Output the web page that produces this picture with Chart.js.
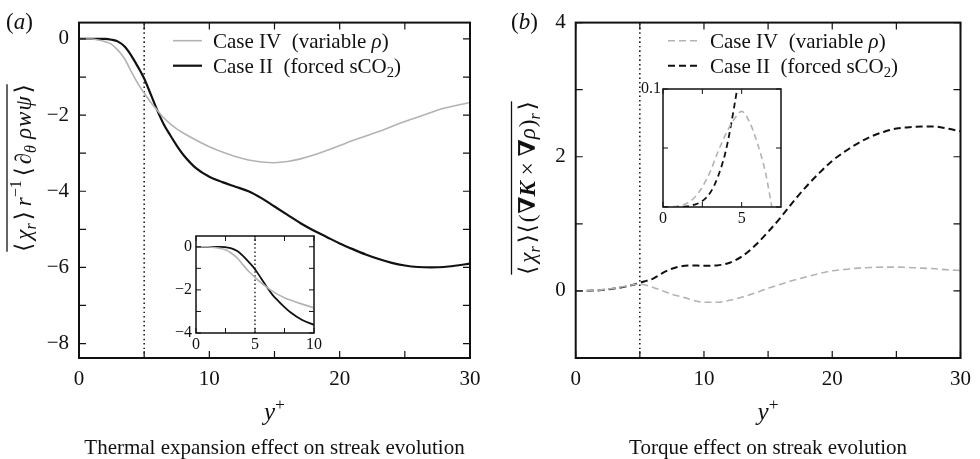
<!DOCTYPE html>
<html><head><meta charset="utf-8">
<script src="https://cdn.jsdelivr.net/npm/chart.js@4.4.0/dist/chart.umd.min.js"></script>
<style>
html,body{margin:0;padding:0;background:#fff;}
#wrap{position:relative;width:980px;height:459px;overflow:hidden;background:#fff;}
canvas{position:absolute;}
</style></head><body>
<div id="wrap">
<canvas id="cA" width="490" height="459" style="left:0;top:0;width:490px;height:459px"></canvas>
<canvas id="cB" width="490" height="459" style="left:490px;top:0;width:490px;height:459px"></canvas>
<canvas id="cAi" width="180" height="140" style="left:150px;top:220px;width:180px;height:140px"></canvas>
<canvas id="cBi" width="190" height="160" style="left:610px;top:75px;width:190px;height:160px"></canvas>
</div>
<script>
// ---------------- DATA ----------------
// Panel (a): thermal expansion effect
const yPlusA = [0,1,1.5,2,2.5,3,3.5,4,4.5,5,5.5,6,6.5,7,7.5,8,9,10,11,12,13,14,15,16,17,18,19,20,21,22,23,24,25,26,27,28,29,30];
const caseIV_A = [0,0,-0.03,-0.07,-0.14,-0.3,-0.52,-0.85,-1.16,-1.42,-1.66,-1.87,-2.07,-2.23,-2.36,-2.47,-2.66,-2.83,-2.97,-3.09,-3.18,-3.23,-3.25,-3.22,-3.15,-3.05,-2.93,-2.8,-2.67,-2.55,-2.43,-2.3,-2.17,-2.05,-1.93,-1.82,-1.74,-1.67];
const caseII_A = [0,0,0,0,-0.02,-0.07,-0.2,-0.43,-0.72,-1.04,-1.45,-1.87,-2.24,-2.53,-2.8,-3.04,-3.4,-3.62,-3.76,-3.88,-4.0,-4.18,-4.4,-4.62,-4.84,-5.03,-5.2,-5.37,-5.52,-5.66,-5.78,-5.88,-5.95,-5.99,-6.0,-5.99,-5.95,-5.9];
// Panel (b): torque effect
const yPlusB = [0,1,2,3,4,5,5.5,6,6.5,7,7.5,8,8.5,9,10,11,12,13,14,15,16,17,18,19,20,21,22,23,24,25,26,27,28,29,30];
const caseIV_B = [0,0.002,0.015,0.04,0.075,0.1,0.085,0.055,0.02,-0.015,-0.05,-0.075,-0.1,-0.13,-0.17,-0.17,-0.14,-0.09,-0.03,0.04,0.1,0.16,0.21,0.26,0.3,0.32,0.34,0.35,0.355,0.355,0.35,0.34,0.33,0.315,0.305];
const caseII_B = [0,0.002,0.012,0.035,0.07,0.12,0.15,0.18,0.235,0.29,0.33,0.36,0.375,0.38,0.375,0.38,0.42,0.52,0.68,0.88,1.1,1.34,1.56,1.76,1.94,2.08,2.2,2.3,2.37,2.42,2.44,2.45,2.45,2.42,2.38];
// Inset of (b): near-wall detail
const yPlusBi = [0,0.5,1,1.5,2,2.5,3,3.5,4,4.5,5,5.5,6,6.5,7,7.5];
const caseIV_Bi = [0,0,0.001,0.003,0.008,0.017,0.03,0.047,0.062,0.074,0.081,0.072,0.054,0.03,-0.006,-0.04];
const caseII_Bi = [0,0,0,0.0005,0.002,0.005,0.012,0.026,0.048,0.083,0.125,0.17,0.22,0.27,0.31,0.34];
// reference line y+ = 5
const refLineX = 5;
// tick values and labels
const xTicksMain = [0,5,10,15,20,25,30];
const xLabelsMain = ['0','','10','','20','','30'];
const yTicksA = [0,-1,-2,-3,-4,-5,-6,-7,-8];
const yLabelsA = ['0','','−2','','−4','','−6','','−8'];
const yTicksB = [0,1,2,3,4];
const yLabelsB = ['0','','2','','4'];
const xTicksAi = [0,2.5,5,7.5,10];
const xLabelsAi = ['0','','5','','10'];
const yTicksAi = [0,-1,-2,-3,-4];
const yLabelsAi = ['0','','−2','','−4'];
const xTicksBi = [0,2.5,5];
const xLabelsBi = ['0','','5'];
const yTicksBi = [0,0.05,0.1];
const yLabelsBi = ['','','0.1'];
const seriesNames = ['Case IV (variable ρ)', 'Case II (forced sCO2)'];
const subtitles = ['Thermal expansion effect on streak evolution', 'Torque effect on streak evolution'];
const panelLabels = ['a','b'];

// ---------------- HELPERS ----------------
const SERIF = '"Liberation Serif","DejaVu Serif",serif';
const GREY = '#b3b3b3';
const INK = '#111';
function pts(xs, ys){ return xs.map((x,i)=>({x:x, y:ys[i]})); }

function fontStr(p, size){
  const s = p.s ? size*0.7 : size;
  return (p.it?'italic ':'') + (p.b?'bold ':'') + s + 'px ' + SERIF;
}
function richWidth(ctx, parts, size){
  let w = 0;
  parts.forEach(p=>{ ctx.font = fontStr(p,size); w += ctx.measureText(p.t).width + (p.gap||0); });
  return w;
}
function drawRich(ctx, parts, x, y, size, align){
  const w = richWidth(ctx, parts, size);
  let cx = align==='center' ? x - w/2 : (align==='right' ? x - w : x);
  const x0 = cx;
  ctx.textBaseline = 'alphabetic';
  ctx.textAlign = 'left';
  parts.forEach(p=>{
    ctx.font = fontStr(p,size);
    let dy = 0;
    if (p.s==='sub') dy = size*0.22;
    if (p.s==='sup') dy = -size*0.42;
    ctx.fillText(p.t, cx, y+dy);
    cx += ctx.measureText(p.t).width + (p.gap||0);
  });
  return {x0:x0, x1:cx};
}
function legendParts(i){
  if (i===0) return [{t:'Case IV  (variable '},{t:'ρ',it:true},{t:')'}];
  return [{t:'Case II  (forced sCO'},{t:'2',s:'sub'},{t:')'}];
}

const frameTicks = {
  id:'frameTicks',
  afterDatasetsDraw(chart, args, opts){
    const ctx = chart.ctx, a = chart.chartArea;
    const xs = chart.scales.x, ys = chart.scales.y;
    ctx.save();
    ctx.strokeStyle = INK;
    ctx.lineWidth = opts.tickWidth;
    ctx.beginPath();
    xs.ticks.forEach(t=>{
      const px = xs.getPixelForValue(t.value);
      ctx.moveTo(px, a.bottom); ctx.lineTo(px, a.bottom - opts.len);
      ctx.moveTo(px, a.top); ctx.lineTo(px, a.top + opts.len);
    });
    ys.ticks.forEach(t=>{
      const py = ys.getPixelForValue(t.value);
      ctx.moveTo(a.left, py); ctx.lineTo(a.left + opts.len, py);
      ctx.moveTo(a.right, py); ctx.lineTo(a.right - opts.len, py);
    });
    ctx.stroke();
    ctx.lineWidth = opts.frameWidth;
    ctx.strokeRect(a.left, a.top, a.right - a.left, a.bottom - a.top);
    ctx.restore();
  }
};

const annot = {
  id:'annot',
  afterDraw(chart, args, o){
    const ctx = chart.ctx, a = chart.chartArea;
    ctx.save();
    ctx.fillStyle = INK;
    if (o.legend){
      const L = o.legend;
      chart.data.datasets.forEach((ds,i)=>{
        if (ds.isRef) return;
        const y = L.y[i];
        ctx.save();
        ctx.strokeStyle = ds.borderColor; ctx.lineWidth = ds.borderWidth;
        ctx.setLineDash(ds.borderDash || []);
        ctx.beginPath(); ctx.moveTo(L.x1, y); ctx.lineTo(L.x2, y); ctx.stroke();
        ctx.restore();
        drawRich(ctx, legendParts(i), L.tx, y + 7, L.size, 'left');
      });
    }
    if (o.panel){
      drawRich(ctx, [{t:'('},{t:o.panel.text,it:true},{t:')'}], o.panel.x, o.panel.y, 23, 'left');
    }
    if (o.xtitle){
      const cx = (a.left + a.right)/2;
      drawRich(ctx, [{t:'y',it:true},{t:'+',s:'sup'}], cx, o.xtitle.y, 25, 'center');
    }
    if (o.subtitle){
      const cx = (a.left + a.right)/2;
      drawRich(ctx, [{t:o.subtitle.text}], cx, o.subtitle.y, 21, 'center');
    }
    if (o.ytitle){
      const T = o.ytitle;
      ctx.save();
      ctx.translate(T.x, T.y);
      ctx.rotate(-Math.PI/2);
      const r = drawRich(ctx, T.parts, 0, 0, T.size, 'center');
      ctx.strokeStyle = INK; ctx.lineWidth = 1.3;
      ctx.beginPath(); ctx.moveTo(r.x0, -T.over); ctx.lineTo(r.x1, -T.over); ctx.stroke();
      ctx.restore();
    }
    ctx.restore();
  }
};

function makeChart(id, W, H, area, o){
  const ctx = document.getElementById(id).getContext('2d');
  const datasets = o.series.map(s=>({
    label: s.label, data: s.data, borderColor: s.color, borderWidth: s.width,
    borderDash: s.dash, pointRadius:0, fill:false, cubicInterpolationMode:'monotone', isRef: !!s.isRef,
    tension: 0
  }));
  return new Chart(ctx, {
    type:'line',
    data:{datasets},
    options:{
      responsive:false, animation:false, devicePixelRatio:1,
      layout:{padding:{left:0, top:area.t, right:W-area.r, bottom:0}},
      plugins:{legend:{display:false}, tooltip:{enabled:false}, title:{display:false}, annot:o.annot,
        frameTicks:{len:o.tickLen, tickWidth:o.tickWidth, frameWidth:o.frameWidth}},
      scales:{
        x:{type:'linear', min:o.xmin, max:o.xmax,
          afterBuildTicks:s=>{ s.ticks = o.xTicks.map(v=>({value:v})); },
          afterFit:s=>{ s.height = H - area.b; },
          grid:{display:false, drawTicks:false}, border:{display:false},
          ticks:{autoSkip:false, maxRotation:0, padding:o.xPad, color:INK,
            font:{family:SERIF, size:o.fs},
            callback:(v)=>{ const k=o.xTicks.indexOf(v); return k>=0?o.xLabels[k]:''; }}},
        y:{type:'linear', min:o.ymin, max:o.ymax,
          afterBuildTicks:s=>{ s.ticks = o.yTicks.map(v=>({value:v})); },
          afterFit:s=>{ s.width = area.l; },
          grid:{display:false, drawTicks:false}, border:{display:false},
          ticks:{autoSkip:false, padding:o.yPad, color:INK,
            font:{family:SERIF, size:o.fs},
            callback:(v)=>{ const k=o.yTicks.indexOf(v); return k>=0?o.yLabels[k]:''; }}}
      }
    },
    plugins:[frameTicks, annot]
  });
}

const dashB = [7,4];

// Panel (a)
makeChart('cA', 490, 459, {l:79, t:15, r:470, b:358}, {
  xmin:0, xmax:30, ymin:-8.38, ymax:0.43,
  xTicks:xTicksMain, xLabels:xLabelsMain, yTicks:yTicksA, yLabels:yLabelsA,
  fs:21, xPad:9, yPad:10, tickLen:7, tickWidth:1.2, frameWidth:2,
  series:[
    {label:seriesNames[0], data:pts(yPlusA, caseIV_A), color:GREY, width:1.6},
    {label:seriesNames[1], data:pts(yPlusA, caseII_A), color:INK, width:2.2},
    {label:'ref', data:[{x:refLineX,y:-8.38},{x:refLineX,y:0.43}], color:INK, width:1.5, dash:[1.5,3], isRef:true}
  ],
  annot:{
    legend:{x1:173, x2:202, tx:213, y:[40.7,65.7], size:21},
    panel:{text:panelLabels[0], x:6, y:29},
    xtitle:{y:420},
    subtitle:{text:subtitles[0], y:454},
    ytitle:{x:31, y:168, size:23, over:24, parts:[
      {t:'⟨',gap:3},{t:'χ',it:true},{t:'r',it:true,s:'sub',gap:3},{t:'⟩',gap:5},{t:'r',it:true},{t:'−1',s:'sup',gap:4},
      {t:'⟨',gap:3},{t:'∂'},{t:'θ',it:true,s:'sub',gap:6},{t:'ρ',it:true,gap:1},{t:'w',it:true,gap:1},{t:'ψ',it:true,gap:3},{t:'⟩'}]}
  }
});

// Panel (b)
makeChart('cB', 490, 459, {l:85.7, t:15, r:477, b:358}, {
  xmin:0, xmax:30, ymin:-1, ymax:4,
  xTicks:xTicksMain, xLabels:xLabelsMain, yTicks:yTicksB, yLabels:yLabelsB,
  fs:21, xPad:9, yPad:10, tickLen:7, tickWidth:1.2, frameWidth:2,
  series:[
    {label:seriesNames[0], data:pts(yPlusB, caseIV_B), color:GREY, width:1.6, dash:dashB},
    {label:seriesNames[1], data:pts(yPlusB, caseII_B), color:INK, width:2, dash:dashB},
    {label:'ref', data:[{x:refLineX,y:-1},{x:refLineX,y:4}], color:INK, width:1.5, dash:[1.5,3], isRef:true}
  ],
  annot:{
    legend:{x1:178, x2:208, tx:220, y:[40.7,65.7], size:21},
    panel:{text:panelLabels[1], x:21, y:29},
    xtitle:{y:420},
    subtitle:{text:subtitles[1], y:454},
    ytitle:{x:45, y:188, size:23, over:23.5, parts:[
      {t:'⟨',gap:3},{t:'χ',it:true},{t:'r',it:true,s:'sub',gap:3},{t:'⟩',gap:1},{t:'⟨',gap:2},{t:'(',gap:1},{t:'∇',b:true},{t:'K',b:true,it:true},{t:' × '},
      {t:'∇',b:true},{t:'ρ',it:true,gap:1},{t:')'},{t:'r',it:true,s:'sub',gap:3},{t:'⟩'}]}
  }
});

// Inset (a)
makeChart('cAi', 180, 140, {l:46, t:16, r:164, b:113}, {
  xmin:0, xmax:10, ymin:-4, ymax:0.5,
  xTicks:xTicksAi, xLabels:xLabelsAi, yTicks:yTicksAi, yLabels:yLabelsAi,
  fs:16, xPad:2, yPad:4, tickLen:5, tickWidth:1, frameWidth:1.5,
  series:[
    {label:seriesNames[0], data:pts(yPlusA, caseIV_A), color:GREY, width:1.6},
    {label:seriesNames[1], data:pts(yPlusA, caseII_A), color:INK, width:1.8},
    {label:'ref', data:[{x:refLineX,y:-4},{x:refLineX,y:0.5}], color:INK, width:1.3, dash:[1.5,2.5], isRef:true}
  ],
  annot:{}
});

// Inset (b)
makeChart('cBi', 190, 160, {l:53, t:14, r:171, b:132}, {
  xmin:0, xmax:7.5, ymin:0, ymax:0.1,
  xTicks:xTicksBi, xLabels:xLabelsBi, yTicks:yTicksBi, yLabels:yLabelsBi,
  fs:16, xPad:2, yPad:2, tickLen:5, tickWidth:1, frameWidth:1.5,
  series:[
    {label:seriesNames[0], data:pts(yPlusBi, caseIV_Bi), color:GREY, width:1.6, dash:[6,4]},
    {label:seriesNames[1], data:pts(yPlusBi, caseII_Bi), color:INK, width:1.8, dash:[6,4]}
  ],
  annot:{}
});
</script>
</body></html>
